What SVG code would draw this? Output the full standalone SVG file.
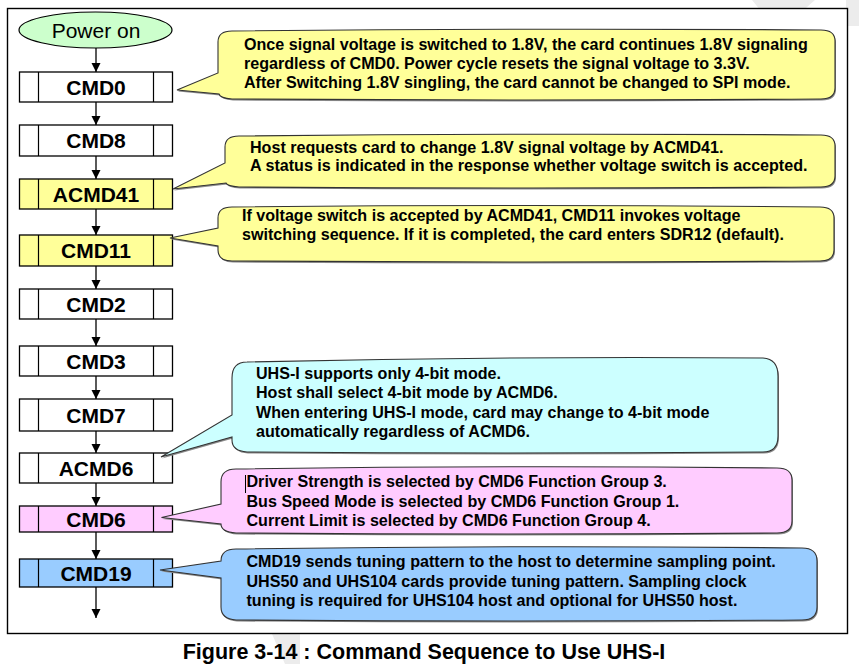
<svg xmlns="http://www.w3.org/2000/svg" width="859" height="664" viewBox="0 0 859 664">
<style>
.frame{fill:#fff;stroke:#000;stroke-width:1.4}
.box{stroke:#000;stroke-width:1.3}
.div{stroke:#000;stroke-width:1.2}
.lbl{font-family:"Liberation Sans",Arial,sans-serif;font-weight:bold;font-size:21px;text-anchor:middle;fill:#000}
.co{stroke:#333;stroke-width:1.1}
.sh{fill:#8a8a8a;stroke:none}
.ct{font-family:"Liberation Sans",Arial,sans-serif;font-weight:bold;font-size:16.1px;fill:#000}
.conn{stroke:#000;stroke-width:1.3;fill:none;marker-end:url(#ah)}
.wm{fill:#ececec}
</style>
<defs>
<marker id="ah" markerUnits="userSpaceOnUse" markerWidth="9" markerHeight="11" refX="9" refY="5.5" orient="auto" viewBox="0 0 9 11">
<path d="M0,1 L9,5.5 L0,10 Z" fill="#000"/>
</marker>
</defs>
<rect width="859" height="664" fill="#fff"/>
<polygon class="wm" points="752,0 815,0 790,22 770,22"/>
<polygon class="wm" points="846,0 859,0 859,26 846,26"/>
<polygon class="wm" points="272,634 300,634 300,664 285,664"/>
<rect class="frame" x="7.5" y="8.5" width="840" height="625"/>

<g id="connectors">
<line class="conn" x1="96" y1="48" x2="96" y2="72"/>
<line class="conn" x1="96" y1="102" x2="96" y2="125"/>
<line class="conn" x1="96" y1="156" x2="96" y2="179"/>
<line class="conn" x1="96" y1="209" x2="96" y2="235"/>
<line class="conn" x1="96" y1="266" x2="96" y2="289"/>
<line class="conn" x1="96" y1="319" x2="96" y2="346"/>
<line class="conn" x1="96" y1="376" x2="96" y2="399"/>
<line class="conn" x1="96" y1="431" x2="96" y2="453"/>
<line class="conn" x1="96" y1="483" x2="96" y2="506"/>
<line class="conn" x1="96" y1="532" x2="96" y2="559"/>
<line class="conn" x1="96" y1="587" x2="96" y2="618"/>
</g>

<g id="power-on">
<ellipse cx="95.5" cy="30" rx="76.5" ry="18" fill="#ccffcc" stroke="#000" stroke-width="1.2"/>
<text x="96" y="37.5" font-family="Liberation Sans,Arial,sans-serif" font-size="21" text-anchor="middle">Power on</text>
</g>

<g id="cmd0">
<rect class="box" x="19.5" y="72" width="153" height="30" fill="#fff"/>
<line class="div" x1="38.5" y1="72" x2="38.5" y2="102"/><line class="div" x1="153.5" y1="72" x2="153.5" y2="102"/>
<text class="lbl" x="96" y="94.5">CMD0</text>
</g>
<g id="cmd8">
<rect class="box" x="19.5" y="125" width="153" height="31" fill="#fff"/>
<line class="div" x1="38.5" y1="125" x2="38.5" y2="156"/><line class="div" x1="153.5" y1="125" x2="153.5" y2="156"/>
<text class="lbl" x="96" y="148">CMD8</text>
</g>
<g id="acmd41">
<rect class="box" x="19.5" y="179" width="153" height="30" fill="#ffff99"/>
<line class="div" x1="38.5" y1="179" x2="38.5" y2="209"/><line class="div" x1="153.5" y1="179" x2="153.5" y2="209"/>
<text class="lbl" x="96" y="201.5">ACMD41</text>
</g>
<g id="cmd11">
<rect class="box" x="19.5" y="235" width="153" height="31" fill="#ffff99"/>
<line class="div" x1="38.5" y1="235" x2="38.5" y2="266"/><line class="div" x1="153.5" y1="235" x2="153.5" y2="266"/>
<text class="lbl" x="96" y="258">CMD11</text>
</g>
<g id="cmd2">
<rect class="box" x="19.5" y="289" width="153" height="30" fill="#fff"/>
<line class="div" x1="38.5" y1="289" x2="38.5" y2="319"/><line class="div" x1="153.5" y1="289" x2="153.5" y2="319"/>
<text class="lbl" x="96" y="311.5">CMD2</text>
</g>
<g id="cmd3">
<rect class="box" x="19.5" y="346" width="153" height="30" fill="#fff"/>
<line class="div" x1="38.5" y1="346" x2="38.5" y2="376"/><line class="div" x1="153.5" y1="346" x2="153.5" y2="376"/>
<text class="lbl" x="96" y="368.5">CMD3</text>
</g>
<g id="cmd7">
<rect class="box" x="19.5" y="399" width="153" height="32" fill="#fff"/>
<line class="div" x1="38.5" y1="399" x2="38.5" y2="431"/><line class="div" x1="153.5" y1="399" x2="153.5" y2="431"/>
<text class="lbl" x="96" y="422.5">CMD7</text>
</g>
<g id="acmd6">
<rect class="box" x="19.5" y="453" width="153" height="30" fill="#fff"/>
<line class="div" x1="38.5" y1="453" x2="38.5" y2="483"/><line class="div" x1="153.5" y1="453" x2="153.5" y2="483"/>
<text class="lbl" x="96" y="475.5">ACMD6</text>
</g>
<g id="cmd6">
<rect class="box" x="19.5" y="506" width="153" height="26" fill="#ffccff"/>
<line class="div" x1="38.5" y1="506" x2="38.5" y2="532"/><line class="div" x1="153.5" y1="506" x2="153.5" y2="532"/>
<text class="lbl" x="96" y="526.5">CMD6</text>
</g>
<g id="cmd19">
<rect class="box" x="19.5" y="559" width="153" height="28" fill="#99ccff"/>
<line class="div" x1="38.5" y1="559" x2="38.5" y2="587"/><line class="div" x1="153.5" y1="559" x2="153.5" y2="587"/>
<text class="lbl" x="96" y="580.5">CMD19</text>
</g>

<g id="note-cmd0">
<path class="sh" transform="translate(1,1.5)" d="M232,31 Q526,28 821,30 Q835,30 835,41 L835,88 Q835,99 821,99 Q526,101 232,99 Q220,98 219,94 L177,90 L218,73 L218,42 Q218,31 232,31 Z"/>
<path class="co" fill="#ffff99" d="M232,31 Q526,28 821,30 Q835,30 835,41 L835,88 Q835,99 821,99 Q526,101 232,99 Q220,98 219,94 L177,90 L218,73 L218,42 Q218,31 232,31 Z"/>
<text class="ct" x="244" y="49.5">Once signal voltage is switched to 1.8V, the card continues 1.8V signaling</text>
<text class="ct" x="244" y="68.8">regardless of CMD0. Power cycle resets the signal voltage to 3.3V.</text>
<text class="ct" x="244" y="88">After Switching 1.8V singling, the card cannot be changed to SPI mode.</text>
</g>

<g id="note-acmd41">
<path class="sh" transform="translate(1,1.5)" d="M239,136 Q530,133 821,135 Q835,135 835,146 L835,176 Q835,187 821,187 Q530,189 239,187 Q227,186 226,183 L173,189 L225,163 L225,147 Q225,136 239,136 Z"/>
<path class="co" fill="#ffff99" d="M239,136 Q530,133 821,135 Q835,135 835,146 L835,176 Q835,187 821,187 Q530,189 239,187 Q227,186 226,183 L173,189 L225,163 L225,147 Q225,136 239,136 Z"/>
<text class="ct" x="250" y="152.7">Host requests card to change 1.8V signal voltage by ACMD41.</text>
<text class="ct" x="250" y="171.2">A status is indicated in the response whether voltage switch is accepted.</text>
</g>

<g id="note-cmd11">
<path class="sh" transform="translate(1,1.5)" d="M232,207 Q526,204 820,207 Q834,207 834,218 L834,250 Q834,261 820,261 Q526,263 232,261 Q218,261 218,250 L218,246 L170,238 L218,228 L218,218 Q218,207 232,207 Z"/>
<path class="co" fill="#ffff99" d="M232,207 Q526,204 820,207 Q834,207 834,218 L834,250 Q834,261 820,261 Q526,263 232,261 Q218,261 218,250 L218,246 L170,238 L218,228 L218,218 Q218,207 232,207 Z"/>
<text class="ct" x="242" y="220.7">If voltage switch is accepted by ACMD41, CMD11 invokes voltage</text>
<text class="ct" x="242" y="240">switching sequence. If it is completed, the card enters SDR12 (default).</text>
</g>

<g id="note-acmd6">
<path class="sh" transform="translate(1,1.5)" d="M247,362 Q505,356 763,358 Q778,359 778,376 L778,436 Q778,452 763,452 Q505,454 247,452 Q232,451 232,440 L232,437 L161,457 L232,415 L232,378 Q232,362 247,362 Z"/>
<path class="co" fill="#ccffff" d="M247,362 Q505,356 763,358 Q778,359 778,376 L778,436 Q778,452 763,452 Q505,454 247,452 Q232,451 232,440 L232,437 L161,457 L232,415 L232,378 Q232,362 247,362 Z"/>
<text class="ct" x="256" y="379">UHS-I supports only 4-bit mode.</text>
<text class="ct" x="256" y="398.3">Host shall select 4-bit mode by ACMD6.</text>
<text class="ct" x="256" y="417.7">When entering UHS-I mode, card may change to 4-bit mode</text>
<text class="ct" x="256" y="437">automatically regardless of ACMD6.</text>
</g>

<g id="note-cmd6">
<path class="sh" transform="translate(1,1.5)" d="M236,469 Q506,465 777,468 Q792,468 792,480 L792,521 Q792,533 777,533 Q506,535 236,533 Q221,532 221,524 L161.5,517.5 L221,504 L221,482 Q221,469 236,469 Z"/>
<path class="co" fill="#ffccff" d="M236,469 Q506,465 777,468 Q792,468 792,480 L792,521 Q792,533 777,533 Q506,535 236,533 Q221,532 221,524 L161.5,517.5 L221,504 L221,482 Q221,469 236,469 Z"/>
<line x1="245.5" y1="475" x2="245.5" y2="493" stroke="#000" stroke-width="1"/>
<text class="ct" x="246.5" y="487.3">Driver Strength is selected by CMD6 Function Group 3.</text>
<text class="ct" x="246.5" y="506.7">Bus Speed Mode is selected by CMD6 Function Group 1.</text>
<text class="ct" x="246.5" y="525.7">Current Limit is selected by CMD6 Function Group 4.</text>
</g>

<g id="note-cmd19">
<path class="sh" transform="translate(1,1.5)" d="M236,549 Q519,545 802,548 Q817,548 817,561 L817,607 Q817,620 802,620 Q519,622 236,620 Q221,619 221,607 L221,578 L160,570 L221,561 Q221,549 236,549 Z"/>
<path class="co" fill="#99ccff" d="M236,549 Q519,545 802,548 Q817,548 817,561 L817,607 Q817,620 802,620 Q519,622 236,620 Q221,619 221,607 L221,578 L160,570 L221,561 Q221,549 236,549 Z"/>
<text class="ct" x="246.5" y="567.3">CMD19 sends tuning pattern to the host to determine sampling point.</text>
<text class="ct" x="246.5" y="586.7">UHS50 and UHS104 cards provide tuning pattern. Sampling clock</text>
<text class="ct" x="246.5" y="606">tuning is required for UHS104 host and optional for UHS50 host.</text>
</g>

<text x="424" y="658.5" text-anchor="middle" font-family="Liberation Sans,Arial,sans-serif" font-weight="bold" font-size="21.5" fill="#000">Figure 3-14 : Command Sequence to Use UHS-I</text>
</svg>
